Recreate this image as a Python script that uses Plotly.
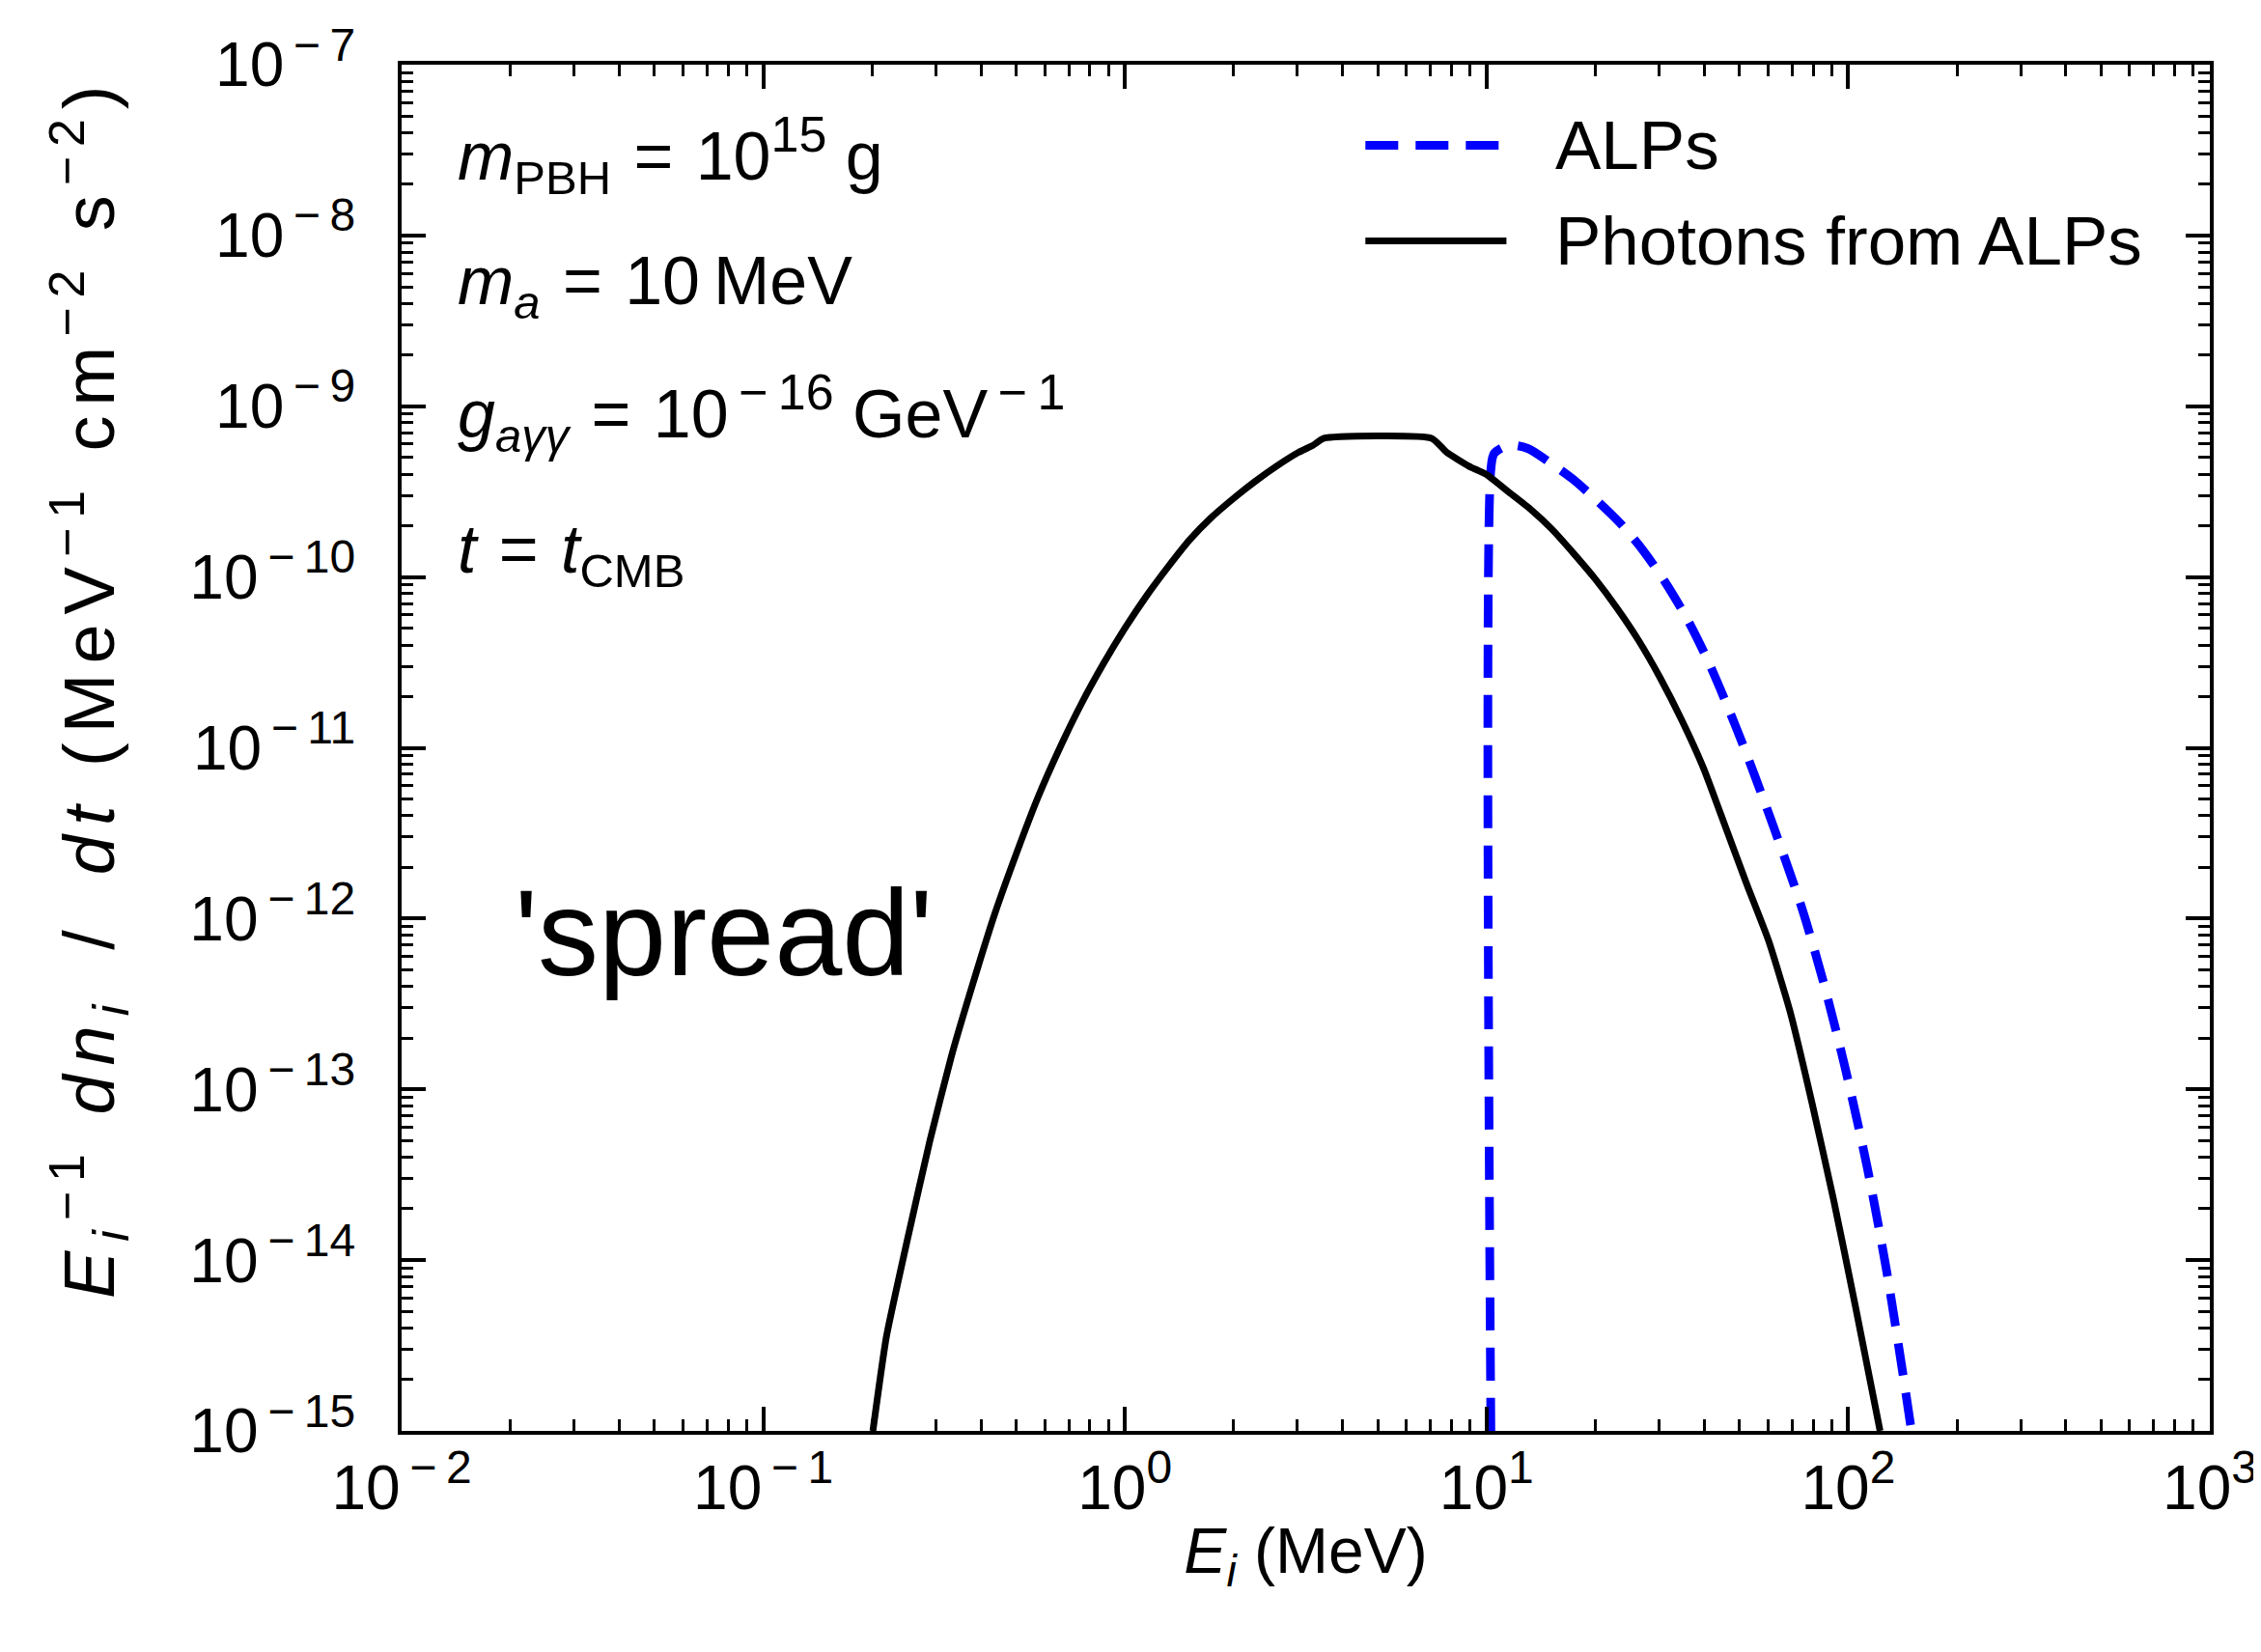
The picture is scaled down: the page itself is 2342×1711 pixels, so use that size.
import plotly.graph_objects as go

# ---------------- data ----------------
# Photons from ALPs (black solid)
photon_E = [0.201, 0.219, 0.251, 0.289, 0.331, 0.380, 0.437, 0.501, 0.575, 0.661,
            0.759, 0.871, 1.000, 1.148, 1.318, 1.514, 1.738, 1.995, 2.291, 2.630,
            3.020, 3.311, 3.550, 7.047, 7.762, 8.913, 10.00, 11.48, 13.18, 15.14,
            17.38, 19.95, 22.91, 26.30, 30.20, 34.67, 39.81, 45.71, 52.48, 60.26,
            69.18, 79.43, 91.20, 104.7, 122.5]
photon_F = [1.0e-15, 3.55e-15, 1.35e-14, 5.01e-14, 1.55e-13, 4.17e-13, 1.07e-12, 2.40e-12, 5.13e-12, 1.00e-11,
            1.82e-11, 3.09e-11, 5.01e-11, 7.76e-11, 1.15e-10, 1.66e-10, 2.24e-10, 2.88e-10, 3.63e-10, 4.47e-10,
            5.37e-10, 5.90e-10, 6.49e-10, 6.49e-10, 5.37e-10, 4.47e-10, 3.98e-10, 3.16e-10, 2.51e-10, 1.91e-10,
            1.38e-10, 9.77e-11, 6.61e-11, 4.27e-11, 2.57e-11, 1.45e-11, 7.59e-12, 3.47e-12, 1.58e-12, 7.41e-13,
            2.82e-13, 8.32e-14, 2.24e-14, 5.37e-15, 1.0e-15]

# ALPs (blue dashed)
alp_E = [10.28, 10.28, 10.50, 11.51, 13.00, 15.00, 17.30, 20.32, 23.50, 27.10,
         31.19, 35.97, 40.74, 46.03, 52.00, 58.75, 66.37, 74.99, 85.11, 97.72,
         112.7, 127.4, 141.3, 149.6]
alp_F = [1.0e-15, 4.27e-10, 5.30e-10, 5.90e-10, 5.66e-10, 4.66e-10, 3.75e-10, 2.77e-10, 2.05e-10, 1.43e-10,
         9.33e-11, 5.62e-11, 3.31e-11, 1.82e-11, 9.55e-12, 4.79e-12, 2.34e-12, 1.10e-12, 4.37e-13, 1.38e-13,
         3.55e-14, 8.91e-15, 2.24e-15, 1.0e-15]

x_major = [1e-2, 1e-1, 1e0, 1e1, 1e2, 1e3]
x_exp = ["−2", "−1", "0", "1", "2", "3"]
y_major = [1e-15, 1e-14, 1e-13, 1e-12, 1e-11, 1e-10, 1e-9, 1e-8, 1e-7]
y_exp = ["−15", "−14", "−13", "−12", "−11", "−10", "−9", "−8", "−7"]

FONT = "Liberation Sans, Arial, Helvetica, sans-serif"
SUP = "<sup><span style='font-size:{}px'>{}</span></sup>"


def power(e, size):
    if e.startswith("−"):
        e = "\u2009−\u2009" + e[1:]
    return SUP.format(size, e)


x_major_text = ["10" + power(e, 48) for e in x_exp]
y_major_text = ["10" + power(e, 48) for e in y_exp]

x_minor = [m * d for d in x_major[:-1] for m in range(2, 10)]
y_minor = [m * d for d in y_major[:-1] for m in range(2, 10)]

BLUE_LINE = dict(color="#0000ff", width=9, dash="34px,18px")
BLACK_LINE = dict(color="black", width=7)

fig = go.Figure()
fig.add_trace(go.Scatter(x=alp_E, y=alp_F, mode="lines", name="ALPs",
                         line=dict(**BLUE_LINE, shape="spline", smoothing=0.8),
                         showlegend=False))
fig.add_trace(go.Scatter(x=photon_E, y=photon_F, mode="lines", name="Photons from ALPs",
                         line=dict(**BLACK_LINE, shape="spline", smoothing=0.5),
                         showlegend=False))

axis_common = dict(
    type="log", showline=True, linewidth=4, linecolor="black", mirror="allticks",
    ticks="inside", ticklen=25, tickwidth=4, tickcolor="black",
    showgrid=False, zeroline=False, ticklabeloverflow="allow",
    tickfont=dict(family=FONT, size=64, color="black"),
)

fig.update_xaxes(**axis_common, range=[-2, 3], tickmode="array",
                 tickvals=x_major, ticktext=x_major_text, ticklabelstandoff=0,
                 minor=dict(tickmode="array", tickvals=x_minor, ticks="inside",
                            ticklen=12, tickwidth=3, tickcolor="black", showgrid=False),
                 title=dict(text="<i>E</i><sub><i>i</i></sub>\u00a0(MeV)", standoff=8,
                            font=dict(family=FONT, size=66, color="black")))

fig.update_yaxes(**axis_common, range=[-15, -7], tickmode="array",
                 tickvals=y_major, ticktext=y_major_text, ticklabelstandoff=31,
                 minor=dict(tickmode="array", tickvals=y_minor, ticks="inside",
                            ticklen=12, tickwidth=3, tickcolor="black", showgrid=False))

# y-axis title (placed as in the reference: slightly above the axis centre)
y_title = ("<span style='letter-spacing:10px'><i>E</i><sub><i>i</i></sub><sup>−1</sup>"
           "\u00a0<i>dn</i><sub><i>i</i></sub>\u2002/\u2002<i>dt</i>\u00a0"
           "(MeV<sup>−1</sup>\u00a0cm<sup>−2</sup>\u00a0s<sup>−2</sup>)</span>")
fig.add_annotation(text=y_title, xref="paper", yref="paper", x=-0.173, y=0.5448,
                   xanchor="center", yanchor="middle", textangle=-90, showarrow=False,
                   font=dict(family=FONT, size=74, color="black"))

# parameter annotations
EQ = "\u2004=\u2004"
params = [
    ("<i>m</i><sub>PBH</sub>" + EQ + "10" + power("15", 52) + "\u00a0g", 0.934),
    ("<i>m<sub>a</sub></i>" + EQ + "10\u2009MeV", 0.838),
    ("<i>g</i><sub><i>aγγ</i></sub>" + EQ + "10" + power("−16", 52) + "\u00a0GeV" + power("−1", 52), 0.745),
    ("<i>t</i>" + EQ + "<i>t</i><sub>CMB</sub>", 0.642),
]
for txt, yp in params:
    fig.add_annotation(text=txt, xref="paper", yref="paper", x=0.030, y=yp,
                       xanchor="left", yanchor="middle", showarrow=False,
                       font=dict(family=FONT, size=70, color="black"))

fig.add_annotation(text="'spread'", xref="paper", yref="paper", x=0.178, y=0.364,
                   xanchor="center", yanchor="middle", showarrow=False,
                   font=dict(family=FONT, size=126, color="black"))

# legend drawn by hand (long line samples as in the reference)
leg = [("ALPs", BLUE_LINE, 0.941), ("Photons from ALPs", BLACK_LINE, 0.871)]
for name, ln, yp in leg:
    fig.add_shape(type="line", xref="paper", yref="paper", x0=0.533, x1=0.611,
                  y0=yp, y1=yp, line=ln)
    fig.add_annotation(text=name, xref="paper", yref="paper", x=0.637, y=yp,
                       xanchor="left", yanchor="middle", showarrow=False,
                       font=dict(family=FONT, size=71, color="black"))

fig.update_layout(width=2342, height=1711,
                  margin=dict(l=408, r=52, t=57, b=237),
                  paper_bgcolor="white", plot_bgcolor="white",
                  font=dict(family=FONT, color="black"))

fig.write_html("out.html")
